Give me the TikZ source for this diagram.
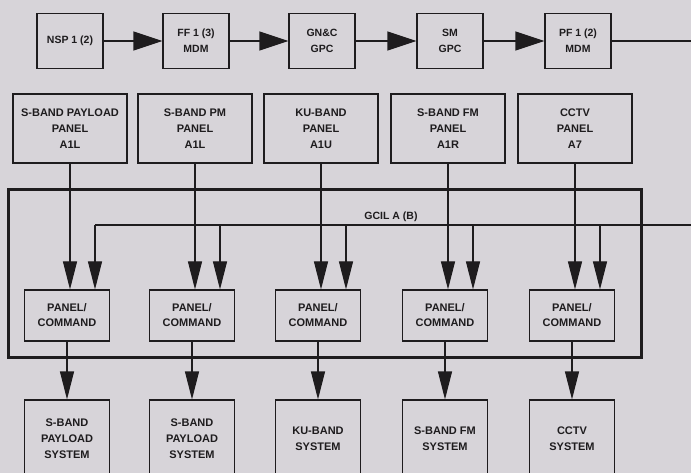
\documentclass[tikz,border=0pt]{standalone}
\usepackage{fontspec}
\setmainfont{Liberation Sans}
\usetikzlibrary{arrows.meta}
\definecolor{paper}{RGB}{215,212,217}
\definecolor{ink}{RGB}{30,28,30}
\tikzset{
  blk/.style={draw=ink, line width=1.1pt, inner sep=0pt, align=center, text=ink,
    font=\bfseries\fontsize{11}{16}\selectfont},
  topblk/.style={blk, minimum width=66pt, minimum height=55pt,
    font=\bfseries\fontsize{10.5}{16}\selectfont},
  panelblk/.style={blk, minimum width=114pt, minimum height=69pt},
  cmdblk/.style={blk, minimum width=85pt, minimum height=51pt,
    font=\bfseries\fontsize{11}{15}\selectfont},
  sysblk/.style={blk, minimum width=85pt, minimum height=78pt},
  sig/.style={draw=ink, line width=1.1pt},
  bigarrow/.style={sig, -{Triangle[length=29pt,width=19pt]}},
  downarrow/.style={sig, -{Triangle[length=28pt,width=14pt]}},
}
\begin{document}
\begin{tikzpicture}[x=1pt, y=-1pt]
    % Page
    \fill[paper] (0,0) rectangle (691,473);
    \useasboundingbox (0,0) rectangle (691,473);

    % Command path
    \node[topblk] (nsp) at (70,41) {NSP 1 (2)};
    \node[topblk] (ff)  at (196,41) {FF 1 (3)\\MDM};
    \node[topblk] (gnc) at (322,41) {GN\&C\\GPC};
    \node[topblk] (sm)  at (450,41) {SM\\GPC};
    \node[topblk] (pf)  at (578,41) {PF 1 (2)\\MDM};
    \coordinate (pfout) at (691,41);
    \draw[bigarrow] (nsp) -- (ff);
    \draw[bigarrow] (ff) -- (gnc);
    \draw[bigarrow] (gnc) -- (sm);
    \draw[bigarrow] (sm) -- (pf);
    \draw[sig] (pf.east) -- (pfout);

    % GCIL frame and bus
    \draw[ink, line width=3pt] (8,190) rectangle (641,357);
    \coordinate (busR) at (691,225);
    \coordinate (busL) at (95,225);
    \draw[sig] (busR) -- (busL);
    \node[font=\bfseries\fontsize{10.5}{12}\selectfont, text=ink, inner sep=0pt] (gcil) at (391,217) {GCIL A (B)};

    % Panels, panel/command units, systems
    \foreach \i/\x/\ptext/\stext in {
        1/70/{S-BAND PAYLOAD\\PANEL\\A1L}/{S-BAND\\PAYLOAD\\SYSTEM},
        2/195/{S-BAND PM\\PANEL\\A1L}/{S-BAND\\PAYLOAD\\SYSTEM},
        3/321/{KU-BAND\\PANEL\\A1U}/{KU-BAND\\SYSTEM},
        4/448/{S-BAND FM\\PANEL\\A1R}/{S-BAND FM\\SYSTEM},
        5/575/{CCTV\\PANEL\\A7}/{CCTV\\SYSTEM}} {
        \node[panelblk] (p\i) at (\x,128.5) {\ptext};
        \node[cmdblk] (c\i) at (\x-3,315.5) {PANEL/\\COMMAND};
        \node[sysblk] (s\i) at (\x-3,439) {\stext};
        \draw[downarrow] (p\i.south) -- (p\i.south |- c\i.north);
        \draw[downarrow] (c\i.south) -- (s\i.north);
        \path (\x+25,0) coordinate (t\i);
    }
    \draw[downarrow] (busL) -- (busL |- c1.north);
    \foreach \i in {2,...,5} {
        \draw[downarrow] (t\i |- busL) -- (t\i |- c\i.north);
    }
\end{tikzpicture}
\end{document}
